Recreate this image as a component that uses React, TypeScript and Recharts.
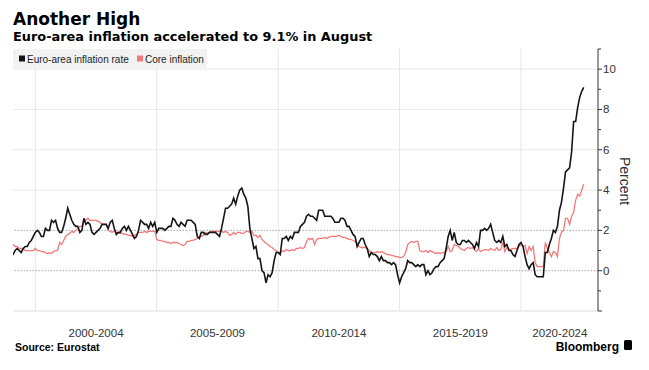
import React from 'react';
import { LineChart, Line, XAxis, YAxis, ReferenceLine } from 'recharts';

const startYear = 1999;
const seriesNames = ['Euro-area inflation rate', 'Core inflation'];

// monthly, Jan 1999 - Aug 2022
const headline = [
  0.8, 0.8, 1.0, 1.1, 1.0, 0.9, 1.1, 1.2, 1.2, 1.4, 1.5, 1.7, // 1999
  1.9, 2.0, 1.9, 1.7, 1.7, 2.1, 2.0, 2.0, 2.5, 2.4, 2.5, 2.1, // 2000
  1.9, 1.9, 2.2, 2.6, 3.1, 2.8, 2.5, 2.3, 2.2, 2.2, 1.9, 2.0, // 2001
  2.6, 2.3, 2.4, 2.3, 1.9, 1.8, 1.9, 2.0, 2.1, 2.3, 2.3, 2.3, // 2002
  2.1, 2.4, 2.5, 2.1, 1.8, 1.9, 1.9, 2.1, 2.2, 2.0, 2.2, 2.0, // 2003
  1.8, 1.6, 1.7, 2.0, 2.5, 2.4, 2.3, 2.3, 2.1, 2.4, 2.2, 2.4, // 2004
  1.9, 2.1, 2.1, 2.1, 2.0, 2.1, 2.2, 2.2, 2.6, 2.5, 2.3, 2.2, // 2005
  2.4, 2.3, 2.2, 2.5, 2.5, 2.5, 2.4, 2.3, 1.7, 1.6, 1.9, 1.9, // 2006
  1.8, 1.8, 1.9, 1.9, 1.9, 1.9, 1.8, 1.7, 2.1, 2.6, 3.1, 3.1, // 2007
  3.2, 3.3, 3.6, 3.3, 3.7, 4.0, 4.1, 3.8, 3.6, 3.2, 2.1, 1.6, // 2008
  1.1, 1.2, 0.6, 0.6, 0.0, -0.1, -0.6, -0.2, -0.3, -0.1, 0.5, 0.9, // 2009
  0.9, 0.8, 1.6, 1.6, 1.7, 1.5, 1.7, 1.6, 1.9, 1.9, 1.9, 2.2, // 2010
  2.3, 2.4, 2.7, 2.8, 2.7, 2.7, 2.6, 2.5, 3.0, 3.0, 3.0, 2.7, // 2011
  2.7, 2.7, 2.7, 2.6, 2.4, 2.4, 2.4, 2.6, 2.6, 2.5, 2.2, 2.2, // 2012
  2.0, 1.8, 1.7, 1.2, 1.4, 1.6, 1.6, 1.3, 1.1, 0.7, 0.9, 0.8, // 2013
  0.8, 0.7, 0.5, 0.7, 0.5, 0.5, 0.4, 0.4, 0.3, 0.4, 0.3, -0.2, // 2014
  -0.6, -0.3, -0.1, 0.1, 0.5, 0.4, 0.4, 0.3, 0.2, 0.3, 0.2, 0.3, // 2015
  0.3, -0.2, 0.0, -0.2, -0.1, 0.1, 0.2, 0.2, 0.4, 0.5, 0.6, 1.1, // 2016
  1.7, 2.0, 1.5, 1.9, 1.4, 1.3, 1.3, 1.5, 1.5, 1.4, 1.5, 1.4, // 2017
  1.3, 1.1, 1.4, 1.2, 2.0, 2.0, 2.1, 2.0, 2.1, 2.3, 1.9, 1.5, // 2018
  1.4, 1.5, 1.4, 1.7, 1.2, 1.3, 1.0, 1.0, 0.8, 0.7, 1.0, 1.3, // 2019
  1.4, 1.2, 0.7, 0.3, 0.1, 0.3, 0.4, -0.2, -0.3, -0.3, -0.3, -0.3, // 2020
  0.9, 0.9, 1.3, 1.6, 2.0, 1.9, 2.2, 3.0, 3.4, 4.1, 4.9, 5.0, // 2021
  5.1, 5.9, 7.4, 7.4, 8.1, 8.6, 8.9, 9.1, // 2022
];

const core = [
  1.3, 1.3, 1.2, 1.2, 1.1, 1.1, 1.1, 1.0, 1.0, 1.0, 1.0, 1.0, // 1999
  1.1, 1.0, 1.0, 0.95, 0.95, 0.9, 0.85, 0.9, 0.85, 0.95, 1.0, 1.0, // 2000
  1.4, 1.3, 1.5, 1.7, 1.8, 1.85, 1.95, 1.9, 2.0, 2.1, 2.2, 2.2, // 2001
  2.55, 2.5, 2.6, 2.5, 2.5, 2.5, 2.5, 2.45, 2.4, 2.3, 2.3, 2.3, // 2002
  2.0, 1.95, 1.9, 2.0, 1.9, 1.85, 1.85, 1.85, 1.8, 1.8, 1.75, 1.75, // 2003
  1.7, 1.75, 1.8, 1.9, 1.9, 1.9, 1.95, 1.9, 1.95, 1.95, 1.95, 1.95, // 2004
  1.55, 1.5, 1.5, 1.45, 1.45, 1.4, 1.4, 1.35, 1.4, 1.4, 1.4, 1.35, // 2005
  1.3, 1.25, 1.3, 1.45, 1.45, 1.5, 1.5, 1.55, 1.6, 1.65, 1.7, 1.75, // 2006
  1.9, 1.85, 1.9, 1.95, 1.95, 1.95, 1.95, 1.95, 1.95, 1.9, 1.95, 1.9, // 2007
  1.75, 1.8, 1.9, 1.8, 1.9, 1.9, 1.85, 1.85, 1.95, 1.95, 1.9, 1.95, // 2008
  1.75, 1.75, 1.65, 1.75, 1.55, 1.45, 1.35, 1.3, 1.2, 1.15, 1.05, 1.0, // 2009
  0.9, 0.85, 1.0, 0.95, 1.05, 1.0, 1.0, 1.05, 1.0, 1.1, 1.1, 1.15, // 2010
  1.1, 1.15, 1.45, 1.6, 1.55, 1.6, 1.3, 1.55, 1.6, 1.6, 1.6, 1.65, // 2011
  1.6, 1.65, 1.7, 1.7, 1.7, 1.7, 1.75, 1.7, 1.65, 1.65, 1.6, 1.55, // 2012
  1.55, 1.5, 1.45, 1.35, 1.2, 1.15, 1.15, 1.15, 1.1, 1.0, 0.9, 0.9, // 2013
  0.9, 0.95, 0.9, 0.95, 0.9, 0.85, 0.8, 0.8, 0.75, 0.75, 0.7, 0.7, // 2014
  0.65, 0.65, 0.7, 0.9, 1.3, 1.4, 1.45, 1.4, 1.45, 1.45, 1.0, 0.95, // 2015
  0.95, 1.0, 0.9, 1.0, 0.95, 0.9, 0.85, 0.9, 0.85, 0.9, 0.9, 0.95, // 2016
  1.2, 0.95, 1.0, 1.3, 1.25, 1.2, 1.1, 1.05, 1.0, 1.1, 1.15, 1.1, // 2017
  1.15, 1.05, 0.95, 1.1, 0.95, 1.0, 1.05, 1.05, 1.0, 1.1, 1.05, 1.0, // 2018
  1.15, 1.0, 1.05, 1.4, 0.95, 1.15, 1.1, 1.05, 1.1, 1.1, 1.1, 1.2, // 2019
  1.3, 1.2, 1.25, 0.85, 1.2, 1.0, 1.2, 0.4, 0.2, 0.2, 0.2, 0.2, // 2020
  1.4, 1.1, 0.9, 0.7, 0.95, 0.9, 0.7, 1.6, 1.9, 2.0, 2.6, 2.6, // 2021
  2.3, 2.7, 2.9, 3.5, 3.8, 3.7, 4.0, 4.3, // 2022
];

const bandStarts = [2000, 2005, 2010, 2015, 2020];
const bandLabels = ['2000-2004', '2005-2009', '2010-2014', '2015-2019', '2020-2024'];
const bandLabelTicks = [2002.5, 2007.5, 2012.5, 2017.5, 2021.6];
const yTicks = [-2, -1, 0, 1, 2, 3, 4, 5, 6, 7, 8, 9, 10, 11];
const solidGrid = [4, 6, 8, 10];
const dottedGrid = [0, 2];

const data = headline.map((v, i) => ({ t: startYear + i / 12, headline: v, core: core[i] }));

const BLACK = '#151515';
const CORE = '#f27a7a';
const SANS = '"Liberation Sans", Arial, sans-serif';
const HEAD = '"DejaVu Sans", sans-serif';

function PercentTick(props: any) {
  const { x, y, payload } = props;
  const v = payload.value;
  const major = v % 2 === 0;
  const label = major && v >= 0 && v <= 10;
  return (
    <g>
      <line x1={x - 4} x2={x - 4 + (major ? 4 : 3)} y1={y} y2={y} stroke="#333" />
      {label && (
        <text x={x + 1} y={y + 4} fontSize={11.5} fill="#333" fontFamily={SANS} textAnchor="start">
          {v}
        </text>
      )}
    </g>
  );
}

export default function App() {
  return (
    <div style={{ position: 'absolute', left: 0, top: 0, width: 649, height: 370, background: '#fff' }}>
      <LineChart width={649} height={370} data={data} margin={{ top: 49, right: 0, bottom: 29, left: 13 }}>
        {bandStarts.map((s) => (
          <ReferenceLine key={'v' + s} x={s} stroke="#e6e6e6" strokeWidth={1} />
        ))}
        {solidGrid.map((g) => (
          <ReferenceLine key={'h' + g} y={g} stroke="#e8e8e8" strokeWidth={1} />
        ))}
        {dottedGrid.map((g) => (
          <ReferenceLine key={'d' + g} y={g} stroke="#a8a8a8" strokeWidth={1} strokeDasharray="1.5 1.5" />
        ))}
        <XAxis
          dataKey="t"
          type="number"
          domain={[1999.08, 2023.17]}
          allowDataOverflow
          ticks={bandLabelTicks}
          interval={0}
          tickFormatter={(v: number) => bandLabels[bandLabelTicks.indexOf(v)]}
          tickLine={false}
          tickSize={0}
          tickMargin={18}
          axisLine={{ stroke: '#dddddd' }}
          height={30}
          tick={{ fontSize: 11.5, fill: '#333', fontFamily: SANS }}
        />
        <YAxis
          orientation="right"
          domain={[-2, 11]}
          ticks={yTicks}
          interval={0}
          allowDataOverflow
          width={51}
          tickLine={false}
          tickSize={0}
          tickMargin={4}
          axisLine={{ stroke: '#333' }}
          tick={<PercentTick />}
        />
        <Line
          dataKey="core"
          name={seriesNames[1]}
          stroke={CORE}
          strokeWidth={1.3}
          dot={false}
          type="linear"
          isAnimationActive={false}
        />
        <Line
          dataKey="headline"
          name={seriesNames[0]}
          stroke={BLACK}
          strokeWidth={1.6}
          dot={false}
          type="linear"
          isAnimationActive={false}
        />
      </LineChart>
      <svg width={649} height={370} style={{ position: 'absolute', left: 0, top: 0, pointerEvents: 'none' }}>
        <text x={13} y={24.5} fontFamily={HEAD} fontWeight="bold" fontSize={17} fill="#000">
          Another High
        </text>
        <text x={13} y={41} fontFamily={HEAD} fontWeight="bold" fontSize={12.9} fill="#000">
          Euro-area inflation accelerated to 9.1% in August
        </text>
        <rect x={13} y={49} width={194} height={19} fill="#f2f2f2" />
        <rect x={19} y={55.5} width={6} height={6} fill={BLACK} />
        <text x={27} y={62.5} fontFamily={SANS} fontSize={10} fill="#222">
          {seriesNames[0]}
        </text>
        <rect x={137} y={55.5} width={6} height={6} fill={CORE} />
        <text x={145} y={62.5} fontFamily={SANS} fontSize={10} fill="#222">
          {seriesNames[1]}
        </text>
        <text
          transform="translate(620,181) rotate(90)"
          textAnchor="middle"
          fontFamily={SANS}
          fontSize={14}
          fill="#333"
        >
          Percent
        </text>
        <text x={15} y={350.5} fontFamily={SANS} fontWeight="bold" fontSize={10.5} fill="#000">
          Source:  Eurostat
        </text>
        <text x={619} y={350.5} textAnchor="end" fontFamily={SANS} fontWeight="bold" fontSize={12} fill="#000">
          Bloomberg
        </text>
        <rect x={624} y={340} width={8} height={10} rx={1.5} fill="#000" />
      </svg>
    </div>
  );
}
